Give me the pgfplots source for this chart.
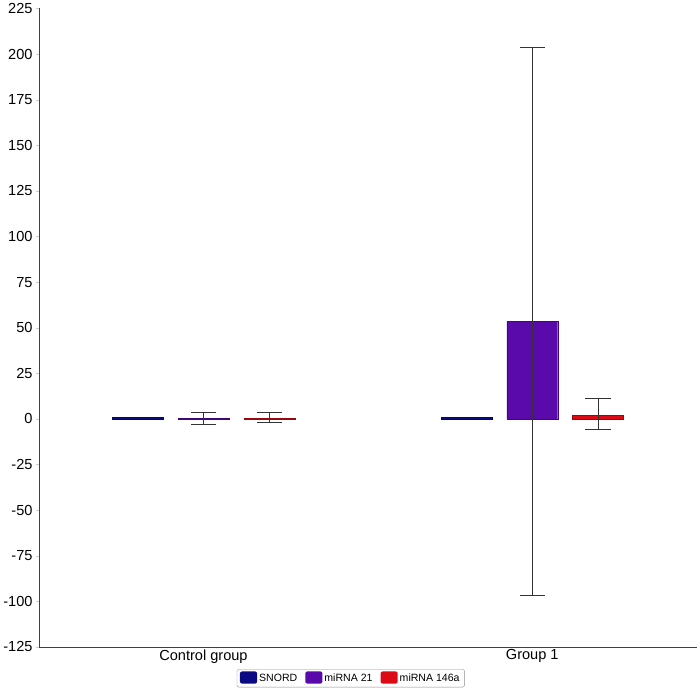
\documentclass[border=0pt]{standalone}
\usepackage{pgfplots}
\pgfplotsset{compat=1.18}
\usepackage{fontspec}
\setmainfont{Liberation Sans}
\definecolor{snord}{RGB}{10,10,130}
\definecolor{mir21}{RGB}{90,10,170}
\definecolor{mir146}{RGB}{220,10,20}
\begin{document}
\begin{tikzpicture}
\begin{axis}[
    scale only axis,
    width=652bp, height=633bp,
    xmin=-0.5, xmax=1.5,
    ymin=-125, ymax=225,
    ytick={-125,-100,...,225},
    xtick={0,1},
    xticklabels={Control group, Group 1},
    extra x ticks={0.5,1.5},
    extra x tick labels={},
    extra x tick style={major tick length=6bp, tick style={gray!60}},
    axis x line=bottom, axis y line=left,
    axis line style={-, draw=black!75, line width=0.8pt},
    tick align=outside,
    major tick length=3bp,
    x tick style={draw=none},
    y tick style={gray!40},
    tick label style={font=\fontsize{14.5}{16}\selectfont},
    /pgf/number format/assume math mode=true,
    xticklabel style={yshift=4bp},
    bar width=0.155,
    legend style={at={(0.474,-0.035)}, anchor=north, legend columns=3,
        draw=black!45, rounded corners=2bp, font=\fontsize{10.5}{12}\selectfont,
        /tikz/every even column/.append style={column sep=6bp}},
    legend image code/.code={\draw[#1, draw=none] (0bp,-5bp) rectangle (17bp,7bp);},
    error bars/error bar style={black!80, line width=0.8pt},
    error bars/error mark options={rotate=90, mark size=12.5bp, black!80, line width=0.8pt},
]
% bars are placed at their own x positions (group centre -0.2, 0, +0.2)
\addplot[ybar, bar shift=0, fill=snord, draw=snord!70!black, line width=0.4pt]
    coordinates {(-0.2,0.8) (0.8,0.8)};
\addplot[ybar, bar shift=0, fill=mir21, draw=mir21!70!black, line width=0.4pt,
    error bars/.cd, y dir=both, y explicit]
    coordinates {(0,0.4) +- (0,3.3) (1,53.5) +- (0,150)};
\addplot[ybar, bar shift=0, fill=mir146, draw=mir146!70!black, line width=0.4pt,
    error bars/.cd, y dir=both, y explicit]
    coordinates {(0.2,0.4) += (0,3.4) -= (0,2.2) (1.2,2) += (0,9) -= (0,7.8)};
\legend{SNORD, miRNA 21, miRNA 146a}
\end{axis}
\end{tikzpicture}
\end{document}
